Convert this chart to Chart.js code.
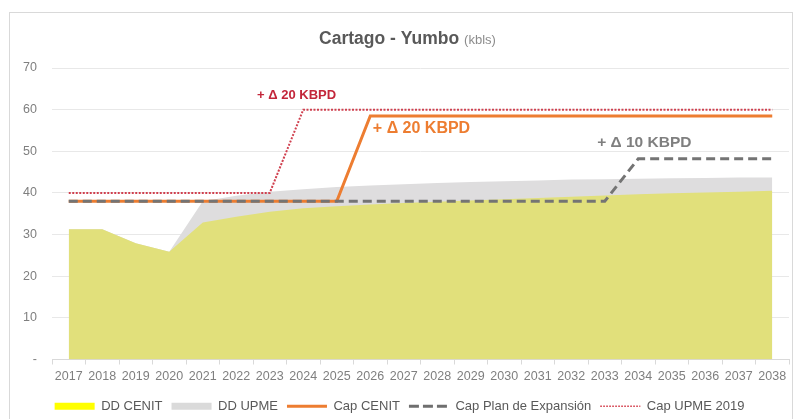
<!DOCTYPE html>
<html><head><meta charset="utf-8">
<script src="https://cdn.jsdelivr.net/npm/chart.js@4.4.0/dist/chart.umd.min.js"></script>
<style>
html,body{margin:0;padding:0;background:#fff;overflow:hidden;}
#wrap{position:relative;width:793px;height:419px;overflow:hidden;}
canvas{display:block;}
</style>
</head><body>
<div id="wrap"><canvas id="c" width="793" height="430"></canvas></div>
<script>
const years = ['2017','2018','2019','2020','2021','2022','2023','2024','2025','2026','2027','2028','2029','2030','2031','2032','2033','2034','2035','2036','2037','2038'];
const ddCenit = [31.3,31.3,27.9,25.9,32.9,34.3,35.5,36.3,36.8,37.2,37.6,37.9,38.2,38.5,38.8,39.1,39.4,39.7,39.9,40.1,40.3,40.5];
const ddUpme  = [31.3,31.3,27.9,25.9,38.0,39.3,40.3,40.9,41.4,41.8,42.1,42.4,42.6,42.8,43.0,43.2,43.3,43.4,43.5,43.6,43.7,43.7];
const capCenit = [38,38,38,38,38,38,38,38,38,58.5,58.5,58.5,58.5,58.5,58.5,58.5,58.5,58.5,58.5,58.5,58.5,58.5];
const capPlan  = [38,38,38,38,38,38,38,38,38,38,38,38,38,38,38,38,38,48.2,48.2,48.2,48.2,48.2];
const capUpme  = [40,40,40,40,40,40,40,60,60,60,60,60,60,60,60,60,60,60,60,60,60,60];
const yTickValues = [0,10,20,30,40,50,60,70];
const yTickLabels = ['-','10','20','30','40','50','60','70'];
const seriesNames = ['DD CENIT','DD UPME','Cap CENIT','Cap Plan de Expansión','Cap UPME 2019'];
const titleMain = 'Cartago - Yumbo';
const titleUnit = '(kbls)';
const noteTexts = ['+ Δ 20 KBPD','+ Δ 20 KBPD','+ Δ 10 KBPD'];
const noteAnchorIndex = [6.8, 10.53, 17.18];
const noteAnchorValue = [63.5, 55.4, 52.0];

const FONT = '"Liberation Sans", Arial, sans-serif';

const frameAndTitle = {
  id: 'frameAndTitle',
  beforeDraw(chart) {
    const ctx = chart.ctx;
    ctx.save();
    ctx.fillStyle = '#ffffff';
    ctx.fillRect(0, 0, chart.width, chart.height);
    ctx.strokeStyle = '#D9D9D9';
    ctx.lineWidth = 1;
    ctx.strokeRect(9.5, 12.5, 783, 430);
    ctx.restore();
  },
  afterDraw(chart) {
    const ctx = chart.ctx;
    ctx.save();
    ctx.textBaseline = 'alphabetic';
    ctx.textAlign = 'left';
    const f1 = 'bold 17.5px ' + FONT;
    const f2 = '13px ' + FONT;
    ctx.font = f1; const w1 = ctx.measureText(titleMain).width;
    ctx.font = f2; const w2 = ctx.measureText(titleUnit).width;
    const gap = 5;
    const total = w1 + gap + w2;
    const cx = (chart.chartArea.left + chart.chartArea.right) / 2 - 13;
    const x0 = cx - total / 2;
    ctx.font = f1; ctx.fillStyle = '#595959';
    ctx.fillText(titleMain, x0, 44);
    ctx.font = f2; ctx.fillStyle = '#8C8C8C';
    ctx.fillText(titleUnit, x0 + w1 + gap, 44);
    ctx.restore();
  }
};

const notes = {
  id: 'notes',
  afterDatasetsDraw(chart) {
    const ctx = chart.ctx;
    const xs = chart.scales.x, ys = chart.scales.y;
    const styles = [
      {font: 'bold 13px ' + FONT, color: '#C3263A'},
      {font: 'bold 16px ' + FONT, color: '#ED7D31'},
      {font: 'bold 15.5px ' + FONT, color: '#7F7F7F'}
    ];
    ctx.save();
    ctx.textAlign = 'center';
    ctx.textBaseline = 'middle';
    noteTexts.forEach((t, i) => {
      ctx.font = styles[i].font;
      ctx.fillStyle = styles[i].color;
      ctx.fillText(t, xs.getPixelForValue(noteAnchorIndex[i]), ys.getPixelForValue(noteAnchorValue[i]));
    });
    ctx.restore();
  }
};

const legendStyles = [
  {pointStyle: 'rect', fillStyle: '#FFFF00', strokeStyle: 'rgba(0,0,0,0)', lineWidth: 0, lineDash: []},
  {pointStyle: 'rect', fillStyle: '#DADADA', strokeStyle: 'rgba(0,0,0,0)', lineWidth: 0, lineDash: []},
  {pointStyle: 'line', fillStyle: '#ED7D31', strokeStyle: '#ED7D31', lineWidth: 3, lineDash: []},
  {pointStyle: 'line', fillStyle: '#7F7F7F', strokeStyle: '#6F6F6F', lineWidth: 3, lineDash: [10, 4]},
  {pointStyle: 'line', fillStyle: '#D0303F', strokeStyle: '#D0303F', lineWidth: 1.5, lineDash: [1.5, 1.5]}
];

new Chart(document.getElementById('c'), {
  type: 'line',
  data: {
    labels: years,
    datasets: [
      {label: seriesNames[0], data: ddCenit, fill: 'origin', backgroundColor: '#E1E07B', borderWidth: 0, pointRadius: 0, order: 4},
      {label: seriesNames[1], data: ddUpme, fill: 'origin', backgroundColor: '#DEDDDE', borderWidth: 0, pointRadius: 0, order: 5},
      {label: seriesNames[2], data: capCenit, fill: false, borderColor: '#ED7D31', borderWidth: 3, pointRadius: 0, order: 3},
      {label: seriesNames[3], data: capPlan, fill: false, borderColor: '#747474', borderWidth: 3, borderDash: [9, 5], pointRadius: 0, order: 2},
      {label: seriesNames[4], data: capUpme, fill: false, borderColor: '#D0404F', borderWidth: 2, borderDash: [2, 1.5], pointRadius: 0, order: 1}
    ]
  },
  options: {
    responsive: false,
    devicePixelRatio: 1,
    animation: false,
    events: [],
    layout: {padding: {left: 10, right: 4, top: 68, bottom: 7.25}},
    elements: {line: {tension: 0}},
    scales: {
      x: {
        type: 'category',
        offset: true,
        grid: {offset: true, drawOnChartArea: false, drawTicks: true, tickLength: 5, tickColor: '#D9D9D9'},
        border: {color: '#D9D9D9', width: 1},
        ticks: {color: '#7F7F7F', font: {family: FONT, size: 12.5}, padding: 5, maxRotation: 0, autoSkip: false},
        afterFit(s) { s.height = 31.25; }
      },
      y: {
        min: 0, max: 70,
        grid: {color: '#E8E8E8', drawTicks: false},
        border: {display: false},
        afterBuildTicks(s) { s.ticks = yTickValues.map(v => ({value: v})); },
        ticks: {
          color: '#7F7F7F', font: {family: FONT, size: 12.5}, padding: 15,
          callback(v) { const i = yTickValues.indexOf(v); return i >= 0 ? yTickLabels[i] : ''; }
        },
        afterFit(s) { s.width = 42; }
      }
    },
    plugins: {
      tooltip: {enabled: false},
      title: {display: false},
      legend: {
        position: 'bottom',
        labels: {
          usePointStyle: true,
          pointStyleWidth: 40,
          boxHeight: 7,
          padding: 9,
          color: '#595959',
          font: {family: FONT, size: 13},
          generateLabels(chart) {
            return chart.data.datasets.map((ds, i) => Object.assign({
              text: ds.label,
              hidden: false,
              datasetIndex: i,
              fontColor: '#595959',
              lineCap: 'butt'
            }, legendStyles[i]));
          }
        }
      }
    }
  },
  plugins: [frameAndTitle, notes]
});
</script>
</body></html>
